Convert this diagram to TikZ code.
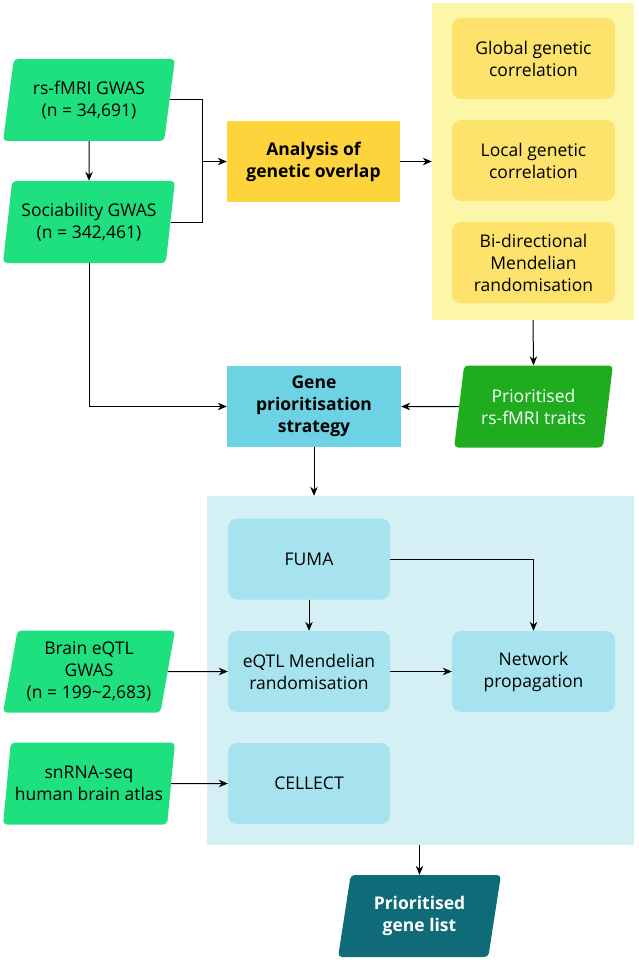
\documentclass[tikz,border=0pt]{standalone}
\usepackage{fontspec}
\setmainfont{Open Sans}
\usepackage{tikz}
\usetikzlibrary{shapes.geometric, arrows.meta}
\definecolor{inputgreen}{HTML}{1EE07F}
\definecolor{traitgreen}{HTML}{1FAD1F}
\definecolor{overlaporange}{HTML}{FDD43C}
\definecolor{corrbg}{HTML}{FCF6A9}
\definecolor{corrbox}{HTML}{FDE36C}
\definecolor{strategycyan}{HTML}{6DD2E4}
\definecolor{genebg}{HTML}{D4F0F5}
\definecolor{genebox}{HTML}{A6E3EE}
\definecolor{listteal}{HTML}{0E6B77}
\newcommand{\boxfont}{\fontsize{17.5}{22}\selectfont}
\tikzstyle{line} = [line width=1pt]
\tikzstyle{arrow} = [line,->,>={Stealth[length=9pt,width=7.5pt]}]
\tikzstyle{dataset} = [trapezium, trapezium left angle=78, trapezium right angle=102,
    trapezium stretches=true, rounded corners=4pt, minimum width=172pt,
    minimum height=82pt, align=center, inner sep=0pt]
\tikzstyle{mainbox} = [rectangle, minimum width=173pt, minimum height=81pt,
    align=center, font=\boxfont\bfseries]
\tikzstyle{subbox} = [rectangle, rounded corners=9pt, minimum width=163pt,
    minimum height=81pt, align=center]

\begin{document}
\begin{tikzpicture}[x=1pt, y=-1pt, font=\boxfont]
        \useasboundingbox (0,0) rectangle (638,960);
        % background panels
        \node (corrpanel)[fill=corrbg, minimum width=202pt,
            minimum height=317pt] at (533,161.5) {};
        \node (genepanel)[fill=genebg, minimum width=427pt,
            minimum height=349pt] at (420.5,670.5) {};
        % inputs
        \node (rsgwas)[dataset, fill=inputgreen] at (89,100)
            {rs-fMRI GWAS\\(n = 34,691)};
        \node (socgwas)[dataset, fill=inputgreen] at (89,222)
            {Sociability GWAS\\(n = 342,461)};
        \node (braineqtl)[dataset, fill=inputgreen] at (89,671.5)
            {Brain eQTL\\GWAS\\(n = 199\textasciitilde2,683)};
        \node (snrna)[dataset, fill=inputgreen] at (89,783.5)
            {snRNA-seq\\human brain atlas};
        % overlap analyses
        \node (overlap)[mainbox, fill=overlaporange] at (313.5,161.5)
            {Analysis of\\genetic overlap};
        \node (globcorr)[subbox, fill=corrbox] at (533.5,58.5)
            {Global genetic\\correlation};
        \node (loccorr)[subbox, fill=corrbox] at (533.5,160.5)
            {Local genetic\\correlation};
        \node (bimr)[subbox, fill=corrbox] at (533.5,262.5)
            {Bi-directional\\Mendelian\\randomisation};
        \node (traits)[dataset, fill=traitgreen, text=white,
            minimum width=159pt] at (533.5,406.5)
            {Prioritised\\rs-fMRI traits};
        % gene prioritisation
        \node (strategy)[mainbox, fill=strategycyan, minimum width=174pt]
            at (314,406.5) {Gene\\prioritisation\\strategy};
        \node (fuma)[subbox, fill=genebox, minimum width=162pt] at (309,559) {FUMA};
        \node (eqtlmr)[subbox, fill=genebox, minimum width=162pt] at (309,671.5)
            {eQTL Mendelian\\randomisation};
        \node (netprop)[subbox, fill=genebox] at (533.5,671.5)
            {Network\\propagation};
        \node (cellect)[subbox, fill=genebox, minimum width=162pt] at (309,783.5)
            {CELLECT};
        \node (genelist)[dataset, fill=listteal, text=white, font=\boxfont\bfseries,
            minimum width=163pt] at (419.5,916) {Prioritised\\gene list};
        % connectors
        \coordinate (join) at (202,161.5);
        \draw [arrow] (rsgwas) -- (socgwas);
        \draw [arrow] (rsgwas.east) -| (join) -- (overlap.west);
        \draw [line] (socgwas.east) -| (join);
        \draw [arrow] (overlap.east) -- (corrpanel.west);
        \draw [arrow] (corrpanel.south) -- (traits.north);
        \draw [arrow] (traits.west) -- (strategy.east);
        \draw [arrow] (socgwas.south) |- (strategy.west);
        \draw [arrow] (strategy.south) -- (strategy.south |- genepanel.north);
        \draw [arrow] (fuma) -- (eqtlmr);
        \draw [arrow] (fuma.east) -| (netprop.north);
        \draw [arrow] (eqtlmr) -- (netprop);
        \draw [arrow] (braineqtl.east) -- (eqtlmr.west);
        \draw [arrow] (snrna.east) -- (cellect.west);
        \draw [arrow] (genelist.north |- genepanel.south) -- (genelist.north);
    \end{tikzpicture}
\end{document}
